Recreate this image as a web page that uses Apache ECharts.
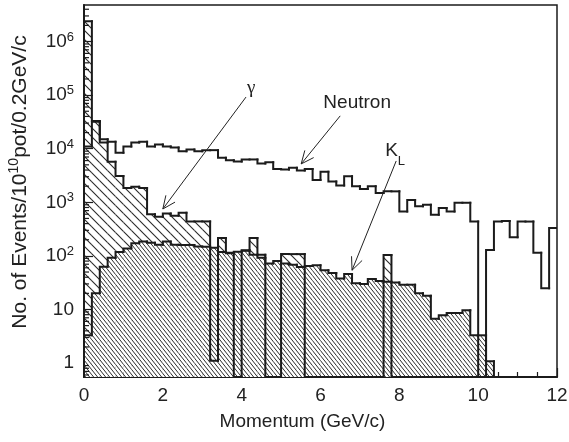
<!DOCTYPE html>
<html>
<head>
<meta charset="utf-8">
<script src="https://cdn.jsdelivr.net/npm/echarts@6/dist/echarts.min.js"></script>
<style>
  html, body { margin: 0; padding: 0; background: #ffffff; }
  #chart { width: 569px; height: 442px; }
</style>
</head>
<body>
<div id="chart"></div>
<script>
// Momentum spectra of beam-line particles, 0.2 GeV/c bins from 0 to 12 GeV/c.
const BIN_WIDTH = 0.2;

// Events per 10^10 protons on target, one entry per bin.
const gammaCounts = [
  2.4e6, 3.3e4, 1.3e4, 5700, 3100, 1850, 1950, 1850, 600, 540,
  620, 560, 640, 440, 440, 440, 1.1, 215, 115, 0,
  125, 215, 105, 0, 0, 108, 108, 108, 0, 0,
  0, 0, 0, 0, 0, 0, 0, 0, 104, 0,
  0, 0, 0, 0, 0, 0, 0, 0, 0, 0,
  0, 0, 0, 0, 0, 0, 0, 0, 0, 0
];
const neutronCounts = [
  1.1e4, 3.2e4, 1.5e4, 1.35e4, 8400, 1.1e4, 1.3e4, 1.35e4, 1.1e4, 1.2e4,
  1.1e4, 1.05e4, 9000, 9700, 9000, 9400, 9400, 6800, 6100, 5800,
  6300, 6300, 5300, 5600, 4200, 4100, 4400, 3900, 4200, 2600,
  3700, 2450, 2050, 3050, 2000, 1780, 2000, 1490, 1600, 1600,
  675, 1100, 840, 900, 585, 780, 675, 980, 980, 437,
  0, 129, 437, 450, 223, 437, 437, 115, 25, 330
];
const klongCounts = [
  3.3, 20, 63, 92, 118, 138, 172, 185, 176, 162,
  185, 162, 160, 160, 150, 148, 142, 118, 112, 120,
  128, 105, 92, 72, 80, 72, 68, 62, 65, 67,
  54, 48, 38, 46, 31, 30, 37, 34, 33, 32,
  29, 29, 20, 18, 6.7, 7.8, 8.6, 8.6, 9.7, 3.3,
  3.3, 1.08, 0, 0, 0, 0, 0, 0, 0, 0
];

// Axis ranges and tick labels.
const X_MIN = 0, X_MAX = 12, X_STEP = 2;
const Y_MIN = 0.55, Y_MAX = 4.8e6;
const yDecades = [0, 1, 2, 3, 4, 5, 6];

const INK = '#1b1b1b';
const FONT = '"Liberation Sans", Arial, Helvetica, sans-serif';

// Diagonal hatch tile: lines running down to the right, w px apart horizontally.
function hatch(w, h, width, color, background) {
  const c = document.createElement('canvas');
  c.width = w; c.height = h;
  const ctx = c.getContext('2d');
  if (background) { ctx.fillStyle = background; ctx.fillRect(0, 0, w, h); }
  ctx.strokeStyle = color;
  ctx.lineWidth = width;
  ctx.beginPath();
  for (let k = -1; k <= 1; k++) {
    ctx.moveTo(k * w - w, -h);
    ctx.lineTo(k * w + 2 * w, 2 * h);
  }
  ctx.stroke();
  return { image: c, repeat: 'repeat' };
}

const sparseHatch = hatch(9, 9, 1.1, '#2a2a2a', null);
const denseHatch = hatch(4, 5, 1.0, '#2a2a2a', '#ffffff');

const level = v => (v > 0 ? v : Y_MIN);

// Step histogram: optional hatched body plus a thick outline.
function histogram(name, counts, fill, fillOrder) {
  const data = counts.map((v, i) => [
    i * BIN_WIDTH, (i + 1) * BIN_WIDTH, level(v), level(i > 0 ? counts[i - 1] : 0), v
  ]);
  return {
    type: 'custom',
    name,
    data,
    clip: true,
    encode: { x: [0, 1], y: [2, 3] },
    renderItem(params, api) {
      const x0 = api.value(0), x1 = api.value(1);
      const lv = api.value(2), lp = api.value(3), raw = api.value(4);
      const floor = api.coord([x0, Y_MIN]);
      const tl = api.coord([x0, lv]);
      const tr = api.coord([x1, lv]);
      const prev = api.coord([x0, lp]);
      const children = [];
      if (fill && raw > 0) {
        children.push({
          type: 'rect',
          z2: fillOrder,
          shape: { x: tl[0], y: tl[1], width: tr[0] - tl[0], height: floor[1] - tl[1] },
          style: { fill: fill, stroke: null }
        });
      }
      children.push({
        type: 'polyline',
        z2: 20,
        shape: { points: [prev, tl, tr] },
        style: { stroke: INK, lineWidth: 2, fill: null, lineCap: 'square', lineJoin: 'miter' }
      });
      return { type: 'group', children };
    }
  };
}

// Minor ticks of the logarithmic axis (2..9 within each decade).
const minorTickValues = [];
for (let e = -1; e <= 6; e++) {
  for (let m = 2; m <= 9; m++) {
    const v = m * Math.pow(10, e);
    if (v > Y_MIN && v < Y_MAX) minorTickValues.push(v);
  }
}

// Labels and pointer arrows, placed in (momentum, events) coordinates.
const arrows = [
  { from: [4.11, 9.2e4], to: [2.0, 750] },
  { from: [6.50, 4.1e4], to: [5.51, 5200] },
  { from: [7.92, 5900], to: [6.80, 54] }
];
const labels = [
  { at: [4.24, 1.35e5], text: '{g|γ}' },
  { at: [6.93, 7.1e4], text: '{n|Neutron}' },
  { at: [7.64, 9200], text: '{k|K}{l|L}', align: 'left' }
];

const chart = echarts.init(document.getElementById('chart'), null, { renderer: 'canvas' });

chart.setOption({
  animation: false,
  backgroundColor: '#ffffff',
  grid: {
    left: 84, right: 12, top: 5, bottom: 65,
    show: true, borderColor: INK, borderWidth: 1.5, backgroundColor: 'transparent',
    containLabel: false, outerBoundsMode: 'none'
  },
  xAxis: {
    type: 'value',
    min: X_MIN, max: X_MAX, interval: X_STEP,
    name: 'Momentum (GeV/c)',
    nameLocation: 'middle',
    nameGap: 35,
    nameTextStyle: { fontFamily: FONT, fontSize: 19, color: '#222', padding: [0, 36, 0, 0] },
    axisLine: { lineStyle: { color: INK, width: 2 } },
    axisTick: { inside: true, length: 9, lineStyle: { color: INK, width: 1.2 } },
    minorTick: { show: true, splitNumber: 4, length: 5, lineStyle: { color: INK, width: 1.2 } },
    splitLine: { show: false },
    minorSplitLine: { show: false },
    axisLabel: { margin: 9, fontFamily: FONT, fontSize: 19, color: '#222' }
  },
  yAxis: {
    type: 'log',
    logBase: 10,
    min: Y_MIN, max: Y_MAX,
    name: '{t|No. of Events/10}{s|10}{t|pot/0.2GeV/c}',
    nameLocation: 'middle',
    nameRotate: 90,
    nameGap: 51,
    nameTextStyle: {
      color: '#222',
      padding: [0, 0, 0, 18],
      rich: {
        t: { fontFamily: FONT, fontSize: 21, lineHeight: 26, color: '#222' },
        s: { fontFamily: FONT, fontSize: 14, verticalAlign: 'top', color: '#222' }
      }
    },
    axisLine: { lineStyle: { color: INK, width: 2 } },
    axisTick: { inside: true, length: 9, lineStyle: { color: INK, width: 1.2 } },
    splitLine: { show: false },
    axisLabel: {
      margin: 10,
      fontFamily: FONT, fontSize: 19, color: '#222',
      showMinLabel: false, showMaxLabel: false,
      formatter: v => {
        const e = Math.round(Math.log10(v));
        if (Math.abs(Math.log10(v) - e) > 1e-6 || yDecades.indexOf(e) < 0) return '';
        if (e === 0) return '1';
        if (e === 1) return '10';
        return '{b|10}{s|' + e + '}';
      },
      rich: {
        b: { fontFamily: FONT, fontSize: 19, lineHeight: 22, color: '#222' },
        s: { fontFamily: FONT, fontSize: 13, verticalAlign: 'top', color: '#222' }
      }
    }
  },
  series: [
    histogram('γ', gammaCounts, sparseHatch, 1),
    histogram('K_L', klongCounts, denseHatch, 2),
    histogram('Neutron', neutronCounts, null, 0),
    {
      type: 'custom',
      name: 'minor ticks',
      data: minorTickValues.map(v => [X_MIN, v]),
      encode: { x: 0, y: 1 },
      renderItem(params, api) {
        const p = api.coord([api.value(0), api.value(1)]);
        return {
          type: 'line', z2: 30,
          shape: { x1: p[0], y1: p[1], x2: p[0] + 5, y2: p[1] },
          style: { stroke: INK, lineWidth: 1.2 }
        };
      }
    },
    {
      type: 'custom',
      name: 'arrows',
      data: arrows.map(a => [a.from[0], a.from[1], a.to[0], a.to[1]]),
      encode: { x: [0, 2], y: [1, 3] },
      renderItem(params, api) {
        const a = api.coord([api.value(0), api.value(1)]);
        const b = api.coord([api.value(2), api.value(3)]);
        const len = Math.hypot(b[0] - a[0], b[1] - a[1]);
        const ux = (b[0] - a[0]) / len, uy = (b[1] - a[1]) / len;
        const head = 14, ang = 24 * Math.PI / 180;
        const wing = s => [
          b[0] - head * (ux * Math.cos(ang) - s * uy * Math.sin(ang)),
          b[1] - head * (uy * Math.cos(ang) + s * ux * Math.sin(ang))
        ];
        const style = { stroke: '#222', lineWidth: 1, fill: null };
        return {
          type: 'group',
          children: [
            { type: 'line', z2: 40, shape: { x1: a[0], y1: a[1], x2: b[0], y2: b[1] }, style },
            { type: 'polyline', z2: 40, shape: { points: [wing(1), b, wing(-1)] }, style }
          ]
        };
      }
    },
    {
      type: 'custom',
      name: 'labels',
      data: labels.map(l => [l.at[0], l.at[1]]),
      encode: { x: 0, y: 1 },
      renderItem(params, api) {
        const item = labels[params.dataIndex];
        const p = api.coord([api.value(0), api.value(1)]);
        return {
          type: 'text', z2: 40,
          x: p[0], y: p[1],
          style: {
            text: item.text,
            align: item.align || 'center',
            verticalAlign: 'middle',
            fill: '#222',
            rich: {
              g: { fontFamily: '"Liberation Serif", "DejaVu Serif", serif', fontSize: 19, color: '#222' },
              n: { fontFamily: FONT, fontSize: 19, color: '#222' },
              k: { fontFamily: FONT, fontSize: 19, lineHeight: 22, color: '#222' },
              l: { fontFamily: FONT, fontSize: 13, verticalAlign: 'bottom', padding: [0, 0, -6, 0], color: '#222' }
            }
          }
        };
      }
    }
  ]
});
</script>
</body>
</html>
